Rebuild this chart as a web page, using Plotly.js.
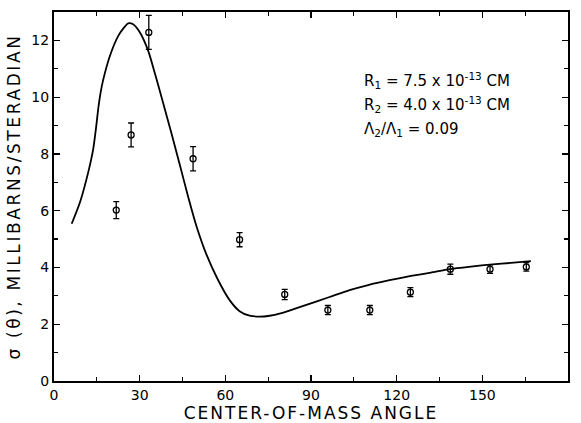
<!DOCTYPE html>
<html>
<head>
<meta charset="utf-8">
<script src="https://cdn.plot.ly/plotly-3.0.1.min.js"></script>
<style>
html,body{margin:0;padding:0;background:#fff;}
#chart{width:581px;height:423px;}
#chart .xtitle{letter-spacing:2px;}
#chart .ytitle{letter-spacing:2.6px;}
</style>
</head>
<body>
<div id="chart"></div>
<script>
// Theoretical curve (center-of-mass angle, deg ; cross section, mb/sr)
var curveX = [6.2, 9.1, 12.0, 13.7, 14.7, 15.5, 16.3, 17.2, 19.6, 22.5, 24.5, 26.0, 27.7, 30.1, 33.0, 35.3, 38.2, 41.2, 44.1, 47.0, 49.9, 53.4, 57.5, 61.5, 65.0, 68.5, 72.0, 75.0, 80.0, 86.0, 96.5, 103.5, 110.0, 117.5, 125.0, 132.0, 138.5, 146.0, 153.6, 160.0, 167.0];
var curveY = [5.54, 6.3, 7.36, 8.15, 8.9, 9.6, 10.15, 10.6, 11.46, 12.16, 12.45, 12.6, 12.57, 12.28, 11.63, 10.85, 9.8, 8.7, 7.6, 6.48, 5.45, 4.45, 3.55, 2.85, 2.46, 2.3, 2.27, 2.29, 2.4, 2.6, 2.96, 3.2, 3.38, 3.55, 3.7, 3.82, 3.94, 4.03, 4.11, 4.16, 4.22];

// Measured points
var dataX = [21.8, 27.0, 33.2, 48.7, 65.0, 80.8, 95.9, 110.6, 124.8, 138.8, 152.7, 165.4];
var dataY = [6.02, 8.67, 12.28, 7.83, 4.98, 3.05, 2.50, 2.50, 3.13, 3.94, 3.94, 4.02];
var dataErr = [0.3, 0.42, 0.6, 0.43, 0.25, 0.18, 0.16, 0.16, 0.16, 0.18, 0.15, 0.15];

var xTicks = [0, 30, 60, 90, 120, 150, 180];
var yTicks = [0, 2, 4, 6, 8, 10, 12];

var paramLines = [
  "R<sub>1</sub> = 7.5 x 10<sup>-13</sup> CM",
  "R<sub>2</sub> = 4.0 x 10<sup>-13</sup> CM",
  "\u039B<sub>2</sub>/\u039B<sub>1</sub> = 0.09"
];

var font = "DejaVu Sans, Liberation Sans, sans-serif";

var traces = [
  {
    x: curveX, y: curveY, type: 'scatter', mode: 'lines',
    line: {color: '#000', width: 1.8, shape: 'spline', smoothing: 0.6},
    hoverinfo: 'skip', showlegend: false
  },
  {
    x: dataX, y: dataY, type: 'scatter', mode: 'markers',
    marker: {symbol: 'circle-open', size: 6, color: '#000', line: {color: '#000', width: 1.3}},
    error_y: {type: 'data', array: dataErr, visible: true, color: '#000', thickness: 1.3, width: 3},
    showlegend: false
  }
];

var axisCommon = {
  showline: true, linecolor: '#000', linewidth: 2, mirror: 'ticks',
  ticks: 'inside', ticklen: 6, tickwidth: 1.3, tickcolor: '#000',
  showgrid: false, zeroline: false,
  tickfont: {family: font, size: 14, color: '#000'}
};

var layout = {
  width: 581, height: 423,
  margin: {l: 54, r: 13, t: 12, b: 42},
  paper_bgcolor: '#fff', plot_bgcolor: '#fff',
  font: {family: font, color: '#000'},
  xaxis: Object.assign({}, axisCommon, {
    range: [0, 180], tickvals: xTicks, ticktext: xTicks.map(String),
    minor: {dtick: 15, ticks: 'inside', ticklen: 4, tickwidth: 1.2, tickcolor: '#000'},
    title: {text: 'CENTER-OF-MASS ANGLE', font: {family: font, size: 17, color: '#000'}, standoff: 9}
  }),
  yaxis: Object.assign({}, axisCommon, {
    range: [0, 13], tickvals: yTicks, ticktext: yTicks.map(String),
    minor: {dtick: 1, ticks: 'inside', ticklen: 4, tickwidth: 1.2, tickcolor: '#000'},
    title: {text: '\u03C3 (\u03B8), MILLIBARNS/STERADIAN', font: {family: font, size: 17, color: '#000'}, standoff: 6}
  }),
  annotations: paramLines.map(function(t, i) {
    return {
      text: t, xref: 'paper', yref: 'paper', x: 0.600, y: 0.815 - i * 0.067,
      xanchor: 'left', yanchor: 'middle', showarrow: false,
      font: {family: font, size: 15, color: '#000'}
    };
  })
};

Plotly.newPlot('chart', traces, layout, {displayModeBar: false, staticPlot: true});
</script>
</body>
</html>
